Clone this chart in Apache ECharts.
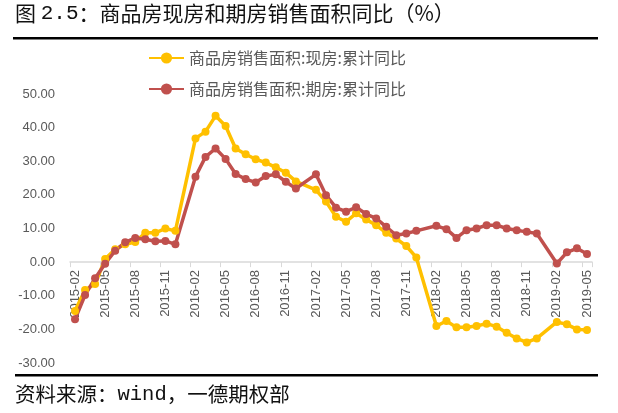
<!DOCTYPE html>
<html>
<head>
<meta charset="utf-8">
<script src="https://cdn.jsdelivr.net/npm/echarts@6/dist/echarts.min.js"></script>
<style>
html,body{margin:0;padding:0;background:#fff;}
#main{width:618px;height:413px;}
</style>
</head>
<body>
<div id="main"></div>
<script>
var categories = [
  '2015-02','2015-03','2015-04','2015-05','2015-06','2015-07','2015-08','2015-09','2015-10','2015-11','2015-12',
  '2016-01','2016-02','2016-03','2016-04','2016-05','2016-06','2016-07','2016-08','2016-09','2016-10','2016-11','2016-12',
  '2017-01','2017-02','2017-03','2017-04','2017-05','2017-06','2017-07','2017-08','2017-09','2017-10','2017-11','2017-12',
  '2018-01','2018-02','2018-03','2018-04','2018-05','2018-06','2018-07','2018-08','2018-09','2018-10','2018-11','2018-12',
  '2019-01','2019-02','2019-03','2019-04','2019-05'
];
var seriesNames = ['商品房销售面积:现房:累计同比', '商品房销售面积:期房:累计同比'];
var xianfang = [
  -14.5, -8.3, -6.5, 0.9, 3.8, 5.3, 6.0, 8.7, 8.7, 10.0, 9.3,
  null, 36.8, 38.8, 43.5, 40.5, 33.8, 32.1, 30.6, 29.6, 28.2, 26.6, 24.0,
  null, 21.5, 18.0, 13.5, 12.0, 14.5, 12.7, 11.0, 8.7, 7.0, 4.8, 1.4,
  null, -19.0, -17.5, -19.4, -19.4, -19.0, -18.3, -19.2, -21.0, -22.7, -23.9, -22.7,
  null, -17.8, -18.5, -20.0, -20.2
];
var qifang = [
  -17.0, -9.8, -4.8, -0.5, 3.4, 5.9, 7.2, 6.8, 6.2, 6.3, 5.3,
  null, 25.4, 31.3, 33.8, 30.7, 26.2, 24.7, 23.7, 25.6, 26.1, 23.9, 21.9,
  null, 26.1, 19.9, 16.2, 15.0, 16.3, 14.3, 13.0, 10.5, 8.0, 8.5, 9.3,
  null, 10.8, 9.8, 7.2, 9.5, 10.0, 11.0, 11.0, 10.0, 9.5, 9.0, 8.5,
  null, -0.4, 2.9, 4.1, 2.4
];
var yTicks = {min: -30, max: 50, interval: 10};
var titleParts = ['图 ', '2.5', '：商品房现房和期房销售面积同比（%）'];
var sourceParts = ['资料来源：', 'wind', '，一德期权部'];

var gridTop = 94, gridBottom = 50, chartH = 413;
var plotH = chartH - gridTop - gridBottom;
// shift the category axis up so it sits on the zero line of the value axis
var zeroOffset = -plotH * (0 - yTicks.min) / (yTicks.max - yTicks.min);

var chart = echarts.init(document.getElementById('main'), null, {renderer: 'canvas'});
var cjkFont = "'Noto Sans CJK SC',sans-serif";
var monoFont = "'Liberation Mono','DejaVu Sans Mono',monospace";
var option = {
  backgroundColor: '#ffffff',
  animation: false,
  color: ['#FFC000', '#C0504D'],
  graphic: [
    {type: 'text', left: 15, top: 3, style: {
      text: '{a|' + titleParts[0] + '}{b|' + titleParts[1] + '}{a|' + titleParts[2] + '}',
      rich: {
        a: {fontSize: 21, fontFamily: cjkFont, fill: '#111', color: '#111'},
        b: {fontSize: 21, fontFamily: monoFont, fill: '#111', color: '#111'}
      }
    }},
    {type: 'rect', shape: {x: 13, y: 37, width: 585, height: 2.5}, style: {fill: '#000'}},
    {type: 'rect', shape: {x: 15, y: 374, width: 583, height: 2.5}, style: {fill: '#000'}},
    {type: 'text', left: 15, top: 384, style: {
      text: '{a|' + sourceParts[0] + '}{b|' + sourceParts[1] + '}{a|' + sourceParts[2] + '}',
      rich: {
        a: {fontSize: 20.5, fontFamily: cjkFont, fill: '#111', color: '#111'},
        b: {fontSize: 20.5, fontFamily: monoFont, fill: '#111', color: '#111'}
      }
    }}
  ],
  legend: {
    orient: 'vertical',
    left: 148,
    top: 50,
    padding: 0,
    itemWidth: 35,
    itemHeight: 14,
    itemGap: 15,
    data: seriesNames,
    textStyle: {fontSize: 16, color: '#595959', fontFamily: cjkFont}
  },
  grid: {left: 70, right: 26, top: gridTop, bottom: gridBottom, containLabel: false, outerBoundsMode: 'none'},
  xAxis: {
    type: 'category',
    data: categories,
    boundaryGap: true,
    offset: zeroOffset,
    axisLine: {onZero: false, lineStyle: {color: '#d9d9d9', width: 1.5}},
    axisTick: {show: true, interval: 2, length: 5, alignWithLabel: false, lineStyle: {color: '#d9d9d9'}},
    axisLabel: {interval: 2, rotate: 90, margin: 8, fontSize: 13, color: '#595959', fontFamily: "'Liberation Sans','Noto Sans',sans-serif"},
    splitLine: {show: false}
  },
  yAxis: {
    type: 'value',
    min: yTicks.min,
    max: yTicks.max,
    interval: yTicks.interval,
    axisLine: {show: false},
    axisTick: {show: false},
    splitLine: {show: false},
    axisLabel: {
      margin: 15, fontSize: 13, color: '#595959', fontFamily: "'Liberation Sans','Noto Sans',sans-serif",
      formatter: function (v) { return v.toFixed(2); }
    }
  },
  series: [
    {
      name: seriesNames[0], type: 'line', data: xianfang, connectNulls: true,
      symbol: 'circle', symbolSize: 8, showAllSymbol: true,
      lineStyle: {width: 3.5, color: '#FFC000'}, itemStyle: {color: '#FFC000'}
    },
    {
      name: seriesNames[1], type: 'line', data: qifang, connectNulls: true,
      symbol: 'circle', symbolSize: 8, showAllSymbol: true,
      lineStyle: {width: 3.5, color: '#C0504D'}, itemStyle: {color: '#C0504D'}
    }
  ]
};
chart.setOption(option);
</script>
</body>
</html>
